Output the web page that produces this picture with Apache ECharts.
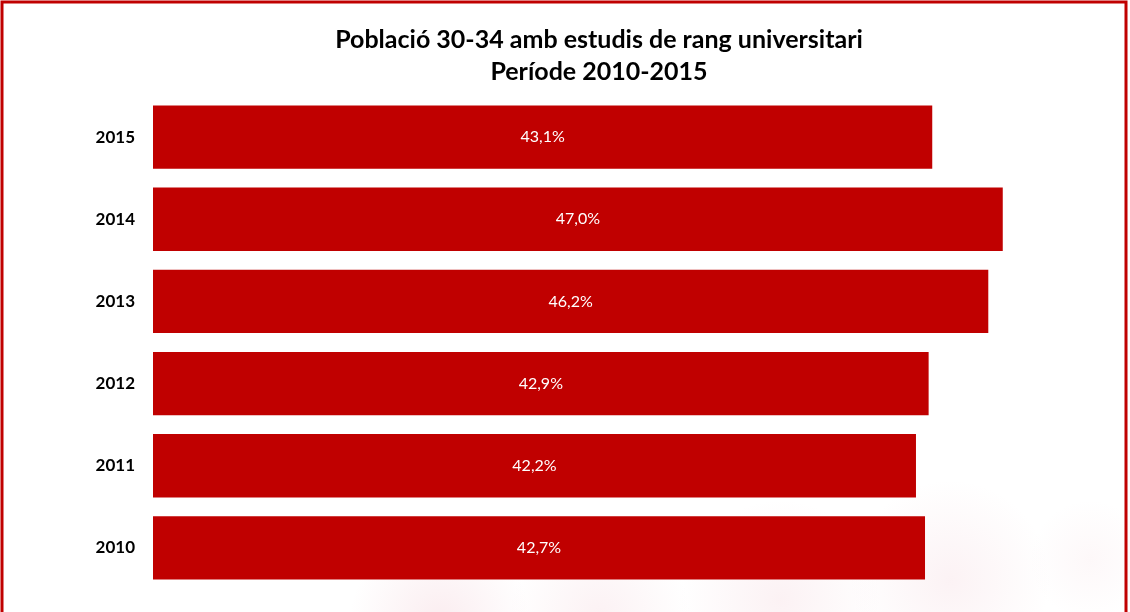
<!DOCTYPE html>
<html>
<head>
<meta charset="utf-8">
<script src="https://cdn.jsdelivr.net/npm/echarts@6/dist/echarts.min.js"></script>
<style>
  html, body { margin: 0; padding: 0; background: #fff; }
  #chart { width: 1130px; height: 612px; }
</style>
</head>
<body>
<div id="chart"></div>
<script>
// anys (de baix a dalt) i percentatges
const years = ['2010', '2011', '2012', '2013', '2014', '2015'];
const values = [42.7, 42.2, 42.9, 46.2, 47.0, 43.1];

const titleText = 'Població 30-34 amb estudis de rang universitari\nPeríode 2010-2015';

var chart = echarts.init(document.getElementById('chart'));

// taca rosada de fons (marca d'aigua difuminada)
function blob(cx, cy, r, alpha) {
  return {
    type: 'rect',
    silent: true,
    z: -10,
    shape: { x: cx - r, y: cy - r, width: r * 2, height: r * 2 },
    style: {
      fill: {
        type: 'radial', x: cx, y: cy, r: r, global: true,
        colorStops: [
          { offset: 0, color: 'rgba(232,165,180,' + alpha + ')' },
          { offset: 1, color: 'rgba(232,165,180,0)' }
        ]
      }
    }
  };
}

var option = {
  backgroundColor: '#fff',
  title: {
    text: titleText,
    left: 594,
    textAlign: 'center',
    top: 19,
    textStyle: {
      fontFamily: 'Lato',
      fontWeight: 'bold',
      fontSize: 25,
      lineHeight: 32,
      color: '#000'
    }
  },
  grid: {
    left: 153,
    right: 73,
    top: 96,
    bottom: 23,
    containLabel: false
  },
  xAxis: {
    type: 'value',
    min: 0,
    max: 50,
    show: false
  },
  yAxis: {
    type: 'category',
    data: years,
    axisLine: { show: false },
    axisTick: { show: false },
    axisLabel: {
      margin: 18,
      fontFamily: 'Lato',
      fontWeight: 'bold',
      fontSize: 17,
      color: '#000'
    }
  },
  series: [{
    type: 'bar',
    data: values,
    barCategoryGap: '23%',
    itemStyle: { color: '#C00000' },
    label: {
      show: true,
      position: 'inside',
      color: '#fff',
      fontFamily: 'Lato',
      fontSize: 16,
      formatter: function (p) { return p.value.toFixed(1).replace('.', ',') + '%'; }
    }
  }],
  graphic: [
    blob(440, 620, 90, 0.2),
    blob(600, 615, 90, 0.15),
    blob(780, 600, 100, 0.15),
    blob(950, 580, 100, 0.14),
    blob(1090, 560, 60, 0.08),
    {
      type: 'rect',
      silent: true,
      z: 100,
      shape: { x: 2, y: 2, width: 1124, height: 612 },
      style: { fill: null, stroke: '#C00000', lineWidth: 3 }
    }
  ]
};

chart.setOption(option);
</script>
</body>
</html>
